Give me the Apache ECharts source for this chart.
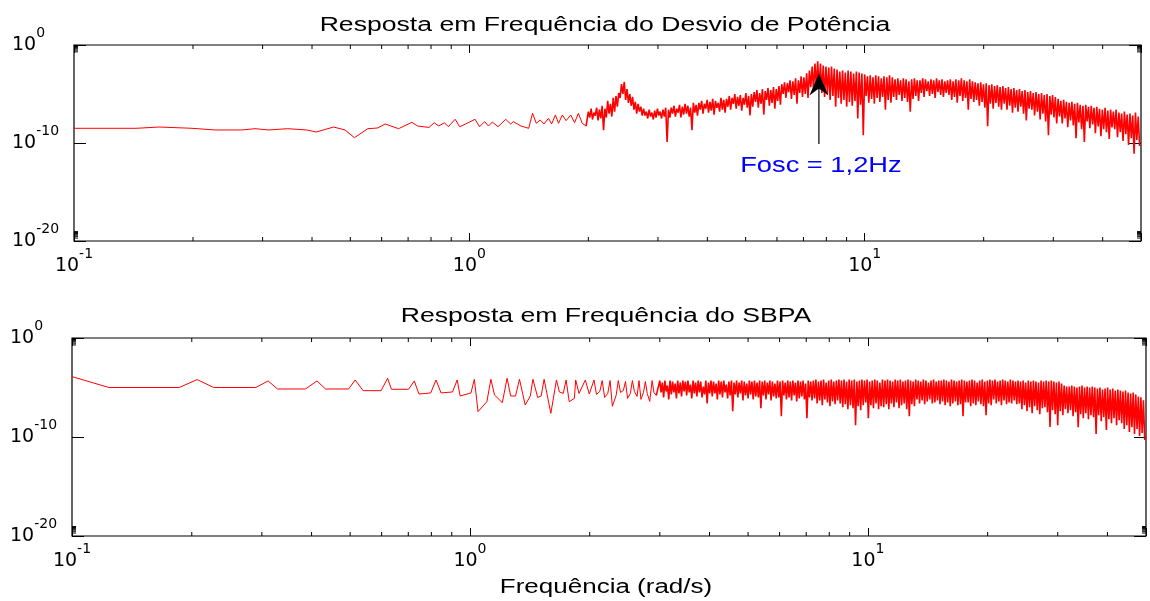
<!DOCTYPE html>
<html>
<head>
<meta charset="utf-8">
<script src="https://cdn.jsdelivr.net/npm/echarts@6/dist/echarts.min.js"></script>
<style>
html,body{margin:0;padding:0;background:#fff;}
#chart{width:1150px;height:601px;}
</style>
</head>
<body>
<div id="chart"></div>
<script>
// ---------- axis ranges and tick values ----------
const xMin = 0.1, xMax = 50;
const yMin = 1e-20, yMax = 1;
const xMinorTicks = [0.2,0.3,0.4,0.5,0.6,0.7,0.8,0.9,2,3,4,5,6,7,8,9,20,30,40];
const yMinorTicks = [2e-20,3e-20,4e-20,5e-20,6e-20,7e-20,8e-20,9e-20,0.2,0.3,0.4,0.5,0.6,0.7,0.8,0.9];

// ---------- titles / annotation ----------
const titleTop = 'Resposta em Frequência do Desvio de Potência';
const titleBottom = 'Resposta em Frequência do SBPA';
const xAxisTitle = 'Frequência (rad/s)';
const annotText = 'Fosc = 1,2Hz';
const annotFreq = 7.66;        // rad/s (1.2 Hz)
const annotTipExp = -2.9;      // log10 of magnitude at arrow tip
const annotTailExp = -10.1;    // log10 at arrow tail
const annotLabelExp = -12.3;   // log10 at label centre

// ---------- Desvio de Potência: values are log10(|magnitude|) ----------
const powLowFreq = [0.1,0.1436,0.1642,0.1989,0.227,0.2656,0.287,0.3104,0.347,0.3878,0.4097,0.4535,0.4847,0.5122,0.5536,0.5858,0.6126,0.6623,0.7156,0.7398,0.7911,0.8148,0.8369,0.865,0.8847,0.9207,0.9456,0.9781,1.034,1.062,1.093,1.118,1.143,1.182,1.236,1.272,1.292,1.351,1.413,1.445,1.477,1.511,1.544,1.586,1.615,1.651,1.681,1.719,1.757,1.805,1.846,1.887,1.93,1.974];
const powLowExp = [-8.5,-8.5,-8.37,-8.5,-8.67,-8.67,-8.54,-8.67,-8.54,-8.67,-8.88,-8.37,-8.67,-9.46,-8.54,-8.47,-8.06,-8.54,-7.89,-8.27,-8.41,-7.93,-8.27,-7.93,-8.34,-7.58,-8.34,-8.06,-7.58,-8.34,-7.82,-8.27,-7.86,-8.34,-7.58,-8.06,-7.82,-8.27,-8.5,-6.97,-7.99,-7.65,-8.06,-7.48,-8.06,-7.14,-7.99,-7.14,-7.72,-7.14,-7.93,-6.97,-7.99,-8.27];
// dense band from 2 to 50 rad/s: local peaks / troughs
const powBandStart = 2.0, powBandEnd = 50;
const powBandHiExp = [
-6.8,-6.5,-6.9,-6.4,-6.6,-6.2,-6.5,-5.7,-6.0,-5.4,
-5.2,-4.9,-4.0,-3.75,-4.5,-5.0,-5.3,-5.8,-6.0,-6.3,
-6.5,-6.8,-6.6,-6.9,-6.7,-6.5,-6.8,-6.6,-6.4,-6.6,
-6.4,-6.2,-6.5,-6.1,-6.3,-6.0,-6.2,-6.4,-5.9,-6.1,
-5.9,-5.7,-6.0,-5.6,-5.8,-5.5,-5.7,-5.9,-5.4,-5.6,
-5.5,-5.2,-5.4,-5.0,-5.3,-5.1,-5.4,-4.9,-5.2,-5.0,
-4.8,-4.6,-4.9,-4.5,-4.7,-4.4,-4.6,-4.3,-4.5,-4.2,
-4.0,-3.8,-3.9,-3.6,-3.7,-3.4,-3.6,-3.2,-3.3,-2.9,
-2.6,-2.2,-1.9,-1.65,-1.9,-2.1,-2.2,-2.3,-2.2,-2.4,
-2.5,-2.7,-2.6,-2.8,-2.6,-2.7,-2.9,-2.7,-2.8,-2.9,
-3.0,-3.2,-3.1,-3.3,-3.1,-3.2,-3.4,-3.2,-3.3,-3.1,
-3.3,-3.5,-3.4,-3.6,-3.4,-3.5,-3.7,-3.5,-3.4,-3.6,
-3.6,-3.4,-3.5,-3.7,-3.5,-3.6,-3.4,-3.6,-3.5,-3.7,
-3.6,-3.5,-3.7,-3.5,-3.6,-3.4,-3.6,-3.7,-3.5,-3.7,
-3.8,-3.9,-3.8,-4.0,-3.9,-4.1,-4.0,-4.2,-4.1,-4.3,
-4.2,-4.4,-4.3,-4.5,-4.4,-4.6,-4.5,-4.7,-4.6,-4.8,
-4.7,-4.9,-4.8,-5.0,-4.9,-5.1,-5.0,-5.2,-5.1,-5.3,
-5.5,-5.7,-5.6,-5.8,-5.9,-5.8,-6.0,-5.9,-6.1,-6.2,
-6.1,-6.3,-6.2,-6.4,-6.3,-6.5,-6.6,-6.4,-6.7,-6.6,
-6.8,-6.6,-6.9,-7.0,-6.8,-7.1,-7.0,-7.2,-6.9,-7.3];
const powBandLoExp = [
-7.4,-7.6,-7.2,-7.7,-7.5,-8.7,-7.4,-7.0,-7.3,-6.8,
-6.3,-5.4,-5.0,-5.6,-5.9,-6.2,-6.6,-7.0,-6.8,-7.2,
-7.2,-7.5,-7.3,-7.6,-7.4,-7.2,-7.5,-7.3,-9.9,-7.4,
-7.0,-7.3,-6.9,-7.4,-7.1,-7.0,-7.3,-8.7,-6.9,-7.2,
-6.6,-7.0,-6.5,-6.9,-6.7,-7.1,-6.4,-6.8,-6.6,-6.9,
-6.3,-6.6,-6.0,-6.5,-6.2,-6.7,-6.1,-6.4,-7.2,-6.3,
-5.8,-6.4,-6.0,-7.1,-5.6,-6.2,-5.9,-6.5,-5.7,-6.1,
-5.0,-5.4,-4.8,-5.5,-5.1,-6.0,-4.9,-5.3,-5.0,-5.4,
-4.3,-4.6,-4.2,-4.4,-4.9,-5.3,-5.0,-5.6,-5.2,-6.3,
-5.4,-6.0,-5.6,-6.3,-5.8,-6.2,-5.7,-7.5,-6.1,-9.2,
-5.2,-5.9,-5.5,-6.0,-5.4,-5.8,-5.3,-6.6,-5.6,-5.9,
-5.3,-5.6,-5.1,-5.7,-5.4,-5.8,-6.8,-5.5,-5.2,-5.7,
-4.9,-5.3,-4.7,-5.2,-5.0,-5.4,-4.8,-5.1,-5.3,-4.9,
-5.1,-5.6,-5.3,-5.9,-5.2,-5.7,-5.4,-6.6,-5.5,-5.8,
-5.6,-6.2,-5.8,-6.4,-8.3,-6.0,-6.5,-5.9,-6.3,-6.6,
-6.0,-6.6,-6.2,-6.9,-6.4,-6.8,-6.3,-7.0,-7.7,-6.5,
-6.6,-7.2,-6.8,-7.6,-7.0,-7.8,-9.2,-7.1,-7.4,-8.0,
-7.3,-8.0,-7.5,-8.4,-7.7,-8.2,-9.5,-7.9,-8.6,-9.9,
-7.8,-8.5,-8.1,-9.0,-8.3,-9.3,-8.6,-8.9,-9.6,-8.4,
-8.6,-9.4,-8.9,-9.8,-9.1,-10.2,-9.5,-11.1,-9.7,-10.3];

// ---------- SBPA: values are log10(|magnitude|) ----------
const sbpaLowFreq = [0.1,0.1238,0.186,0.2063,0.2271,0.2897,0.311,0.3285,0.386,0.4128,0.4337,0.4956,0.5148,0.5391,0.5982,0.621,0.635,0.701,0.7248,0.7446,0.797,0.822,0.846,0.904,0.929,0.945,1.006,1.026,1.048,1.103,1.129,1.153,1.206,1.24,1.266,1.302,1.332,1.377,1.418,1.44,1.48,1.51,1.536,1.597,1.65,1.678,1.716,1.745,1.776,1.83,1.844,1.88,1.95,1.995,2.05,2.08,2.12,2.15,2.18,2.22,2.25,2.28,2.33,2.36,2.39,2.43,2.46,2.49,2.53,2.56,2.59,2.63,2.66,2.69,2.73,2.76,2.79,2.83,2.87,2.9,2.94];
const sbpaLowExp = [-3.9,-5.0,-5.0,-4.2,-5.0,-5.0,-4.34,-5.15,-5.15,-4.34,-5.15,-5.15,-4.24,-5.32,-5.32,-4.07,-5.18,-5.18,-4.34,-5.66,-5.55,-4.24,-5.55,-5.45,-4.24,-5.86,-5.55,-4.17,-7.44,-6.43,-4.17,-5.76,-6.53,-4.07,-5.86,-5.86,-4.17,-6.77,-5.86,-4.17,-6.0,-5.86,-4.17,-7.61,-4.24,-5.45,-5.59,-4.24,-6.43,-6.1,-4.24,-5.6,-4.24,-5.66,-4.24,-5.7,-5.4,-4.3,-6.0,-5.6,-4.3,-6.9,-5.8,-4.3,-5.5,-5.3,-4.4,-6.1,-5.6,-4.3,-5.4,-5.9,-4.3,-6.2,-5.5,-4.4,-5.6,-6.4,-4.3,-5.5,-5.8];
const sbpaBandStart = 3.0, sbpaBandEnd = 50;
const sbpaBandHiExp = [
-4.3,-4.5,-4.3,-4.8,-4.3,-4.4,-4.6,-4.3,-4.5,-4.3,
-4.4,-4.3,-4.7,-4.3,-4.5,-4.3,-4.4,-4.9,-4.3,-4.5,
-4.3,-4.4,-4.6,-4.3,-4.4,-4.3,-4.7,-4.4,-4.3,-4.5,
-4.3,-4.5,-4.3,-4.4,-4.6,-4.3,-4.4,-4.3,-4.5,-4.3,
-4.4,-4.3,-4.5,-4.3,-4.4,-4.6,-4.3,-4.4,-4.3,-4.5,
-4.3,-4.4,-4.3,-4.5,-4.3,-4.4,-4.3,-4.6,-4.3,-4.4,
-4.3,-4.2,-4.4,-4.3,-4.2,-4.5,-4.3,-4.2,-4.4,-4.3,
-4.2,-4.3,-4.2,-4.4,-4.2,-4.3,-4.2,-4.4,-4.3,-4.2,
-4.3,-4.2,-4.4,-4.3,-4.2,-4.3,-4.5,-4.2,-4.3,-4.2,
-4.3,-4.4,-4.2,-4.3,-4.2,-4.4,-4.3,-4.2,-4.3,-4.4,
-4.2,-4.3,-4.4,-4.2,-4.3,-4.5,-4.3,-4.2,-4.4,-4.3,
-4.3,-4.2,-4.3,-4.4,-4.2,-4.3,-4.4,-4.3,-4.2,-4.3,
-4.4,-4.3,-4.2,-4.3,-4.5,-4.3,-4.2,-4.4,-4.3,-4.2,
-4.3,-4.2,-4.4,-4.3,-4.2,-4.3,-4.4,-4.2,-4.3,-4.4,
-4.3,-4.4,-4.3,-4.5,-4.3,-4.4,-4.3,-4.4,-4.5,-4.3,
-4.4,-4.3,-4.4,-4.3,-4.4,-4.5,-4.4,-4.6,-4.8,-4.9,
-4.9,-4.8,-4.9,-5.0,-4.9,-4.8,-5.0,-4.9,-5.0,-4.9,
-5.0,-5.1,-5.0,-5.2,-5.1,-5.0,-5.2,-5.1,-5.3,-5.2,
-5.3,-5.4,-5.3,-5.5,-5.6,-5.5,-5.7,-5.9,-6.0,-6.3];
const sbpaBandLoExp = [
-5.5,-6.0,-5.4,-6.2,-5.7,-5.5,-6.1,-5.6,-5.9,-5.4,
-5.8,-5.5,-6.1,-5.6,-5.9,-5.5,-6.0,-5.7,-6.6,-5.6,
-5.9,-5.6,-6.2,-5.7,-6.0,-5.5,-6.1,-5.8,-7.4,-5.7,
-6.0,-5.6,-6.3,-5.8,-6.1,-5.7,-6.2,-5.9,-6.0,-7.1,
-5.8,-6.2,-5.7,-6.3,-5.9,-6.1,-6.0,-7.9,-5.8,-6.2,
-6.0,-6.3,-5.8,-6.4,-6.1,-5.9,-6.2,-8.1,-6.0,-6.3,
-6.1,-6.6,-6.3,-6.8,-6.2,-6.5,-6.9,-6.4,-6.7,-6.3,
-6.6,-7.0,-6.7,-7.2,-6.8,-7.1,-8.8,-6.9,-7.3,-6.8,
-6.5,-8.1,-6.8,-7.1,-6.6,-7.2,-6.9,-7.0,-6.7,-7.2,
-6.6,-7.0,-6.5,-7.1,-6.8,-6.6,-7.2,-7.9,-6.7,-6.9,
-6.2,-6.6,-6.3,-6.7,-6.4,-6.2,-6.6,-6.5,-6.3,-6.7,
-6.4,-6.8,-6.5,-6.9,-6.6,-6.4,-6.8,-6.7,-7.9,-6.5,
-6.5,-6.9,-6.6,-6.8,-6.4,-6.7,-6.9,-7.8,-6.6,-6.8,
-6.2,-6.6,-6.4,-6.8,-6.3,-6.7,-6.5,-6.6,-6.3,-6.7,
-6.6,-7.2,-6.8,-7.4,-7.0,-7.6,-6.9,-7.3,-7.7,-7.1,
-7.0,-7.5,-9.0,-7.3,-7.7,-8.8,-7.4,-7.8,-7.2,-7.6,
-7.3,-7.9,-7.5,-9.0,-7.7,-8.1,-7.6,-8.2,-7.8,-8.0,
-9.7,-7.8,-8.4,-8.0,-9.3,-8.2,-8.6,-8.1,-8.8,-8.3,
-8.6,-9.2,-8.8,-9.5,-9.0,-9.7,-9.2,-9.9,-9.6,-10.3];

// ---------- build [freq, magnitude] tables ----------
function lowPart(freqs, exps) {
  const n = Math.min(freqs.length, exps.length);
  const out = [];
  for (let i = 0; i < n; i++) out.push([freqs[i], Math.pow(10, exps[i])]);
  return out;
}
function bandPart(start, end, hi, lo) {
  const n = Math.min(hi.length, lo.length);
  const step = Math.log10(end / start) / n;
  const out = [];
  for (let k = 0; k < n; k++) {
    out.push([start * Math.pow(10, k * step), Math.pow(10, hi[k])]);
    out.push([start * Math.pow(10, (k + 0.5) * step), Math.pow(10, lo[k])]);
  }
  return out;
}
const powLow = lowPart(powLowFreq, powLowExp);
const powBand = [powLow[powLow.length - 1]].concat(bandPart(powBandStart, powBandEnd, powBandHiExp, powBandLoExp));
const sbpaLow = lowPart(sbpaLowFreq, sbpaLowExp);
const sbpaBand = [sbpaLow[sbpaLow.length - 1]].concat(bandPart(sbpaBandStart, sbpaBandEnd, sbpaBandHiExp, sbpaBandLoExp));
const minorTickData = xMinorTicks.map(v => [v, 1e-10, 0]).concat(yMinorTicks.map(v => [1, v, 1]));

// ---------- styles ----------
const FONT = '"Liberation Sans", Arial, Helvetica, sans-serif';
const labelRich = {
  b: {fontFamily: 'DejaVu Sans', fontSize: 19, lineHeight: 19, verticalAlign: 'bottom', color: '#000'},
  s: {fontFamily: 'DejaVu Sans', fontSize: 14, lineHeight: 14, padding: [0, 0, 15, 0], verticalAlign: 'bottom', color: '#000'}
};
function powLabel(v) {
  const e = Math.log10(v);
  const r = Math.round(e);
  if (Math.abs(e - r) > 1e-6) return '';
  return '{b|10}{s|' + r + '}';
}
function xAx(grid, pos, showLabel) {
  return {
    type: 'log', logBase: 10, gridIndex: grid, position: pos, min: xMin, max: xMax,
    axisLine: {show: false}, splitLine: {show: false}, minorTick: {show: false},
    axisTick: {show: true, inside: true, length: 8, lineStyle: {color: '#000', width: 1}},
    axisLabel: {show: showLabel, formatter: powLabel, rich: labelRich, margin: 15, padding: [1, 0, 0, 0], color: '#000'}
  };
}
function yAx(grid, pos, showLabel) {
  return {
    type: 'log', logBase: 10, gridIndex: grid, position: pos, min: yMin, max: yMax, splitNumber: 2,
    axisLine: {show: false}, splitLine: {show: false}, minorTick: {show: false},
    axisTick: {show: true, inside: true, length: 12, lineStyle: {color: '#000', width: 1}},
    axisLabel: {show: showLabel, formatter: powLabel, rich: labelRich, align: 'left', margin: 62, padding: [1, 0, 0, 0], color: '#000'}
  };
}
function renderMinor(params, api) {
  const cs = params.coordSys;
  const kind = api.value(2);
  const len = 4;
  const st = {stroke: '#000', lineWidth: 1};
  if (kind === 0) {
    const px = api.coord([api.value(0), 1e-10])[0];
    return {type: 'group', children: [
      {type: 'line', shape: {x1: px, y1: cs.y, x2: px, y2: cs.y + len}, style: st},
      {type: 'line', shape: {x1: px, y1: cs.y + cs.height, x2: px, y2: cs.y + cs.height - len}, style: st}
    ]};
  }
  const py = api.coord([1, api.value(1)])[1];
  return {type: 'group', children: [
    {type: 'line', shape: {x1: cs.x, y1: py, x2: cs.x + len, y2: py}, style: st},
    {type: 'line', shape: {x1: cs.x + cs.width, y1: py, x2: cs.x + cs.width - len, y2: py}, style: st}
  ]};
}
function lineSeries(name, xi, yi, data, width) {
  return {type: 'line', name: name, xAxisIndex: xi, yAxisIndex: yi, data: data,
    showSymbol: false, symbol: 'none', animation: false, z: 2,
    lineStyle: {color: '#ff0000', width: width}, itemStyle: {color: '#ff0000'}};
}

const chart = echarts.init(document.getElementById('chart'), null, {renderer: 'canvas'});
const option = {
  backgroundColor: '#fff',
  animation: false,
  grid: [
    {left: 74, right: 9, top: 45, height: 196, show: true, borderColor: '#000', borderWidth: 1.2, backgroundColor: 'transparent'},
    {left: 72, right: 4, top: 338, height: 198, show: true, borderColor: '#000', borderWidth: 1.2, backgroundColor: 'transparent'}
  ],
  xAxis: [xAx(0, 'bottom', true), xAx(0, 'top', false), xAx(1, 'bottom', true), xAx(1, 'top', false)],
  yAxis: [yAx(0, 'left', true), yAx(0, 'right', false), yAx(1, 'left', true), yAx(1, 'right', false)],
  series: [
    lineSeries('Desvio de Potência', 0, 0, powLow, 1),
    lineSeries('Desvio de Potência', 0, 0, powBand, 1.6),
    lineSeries('SBPA', 2, 2, sbpaLow, 1),
    lineSeries('SBPA', 2, 2, sbpaBand, 1.6),
    {type: 'custom', xAxisIndex: 0, yAxisIndex: 0, data: minorTickData, renderItem: renderMinor, silent: true, z: 5, animation: false},
    {type: 'custom', xAxisIndex: 2, yAxisIndex: 2, data: minorTickData, renderItem: renderMinor, silent: true, z: 5, animation: false}
  ]
};
chart.setOption(option);

function txt(text, x, y, size, sx, color) {
  return {type: 'text', x: x, y: y, scaleX: sx, z: 10, silent: true,
    style: {text: text, font: size + 'px ' + FONT, fill: color, textFill: color,
      align: 'center', verticalAlign: 'middle', textAlign: 'center', textVerticalAlign: 'middle'}};
}
const tip = chart.convertToPixel({xAxisIndex: 0, yAxisIndex: 0}, [annotFreq, Math.pow(10, annotTipExp)]);
const tail = chart.convertToPixel({xAxisIndex: 0, yAxisIndex: 0}, [annotFreq, Math.pow(10, annotTailExp)]);
const lab = chart.convertToPixel({xAxisIndex: 0, yAxisIndex: 0}, [annotFreq, Math.pow(10, annotLabelExp)]);

chart.setOption({
  graphic: [
    txt(titleTop, 605, 25, 20, 1.33, '#000'),
    txt(titleBottom, 606, 316, 20, 1.33, '#000'),
    txt(xAxisTitle, 606, 587, 20, 1.3, '#000'),
    txt(annotText, lab[0] + 2, lab[1], 22, 1.24, '#0000ff'),
    {type: 'line', z: 10, silent: true, shape: {x1: tip[0], y1: tip[1] + 14, x2: tail[0], y2: tail[1]}, style: {stroke: '#000', lineWidth: 1.2}},
    {type: 'polygon', z: 11, silent: true, shape: {points: [[tip[0], tip[1]], [tip[0] - 9.5, tip[1] + 22], [tip[0], tip[1] + 15], [tip[0] + 9.5, tip[1] + 22]]}, style: {fill: '#000'}}
  ]
});
</script>
</body>
</html>
